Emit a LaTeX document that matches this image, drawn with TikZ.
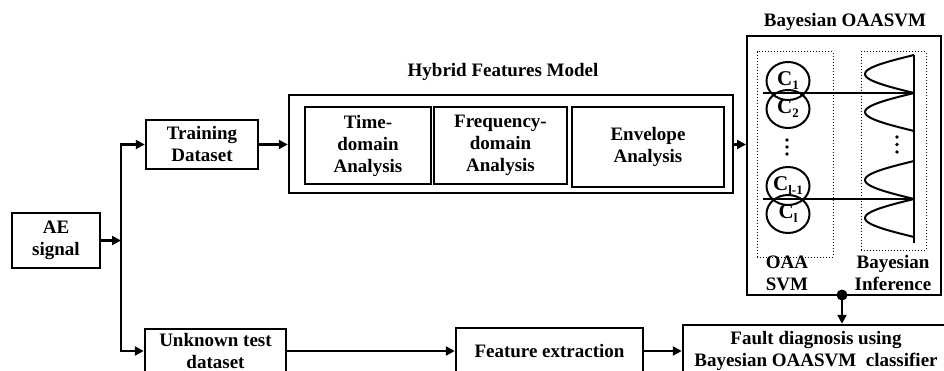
\documentclass[tikz,border=0pt]{standalone}
\usepackage{fontspec}
\setmainfont{Liberation Serif}
\usetikzlibrary{arrows.meta,shapes.geometric}
\begin{document}
\begin{tikzpicture}[x=1pt,y=-1pt,
  font=\fontsize{19}{22}\selectfont\bfseries,
  box/.style={draw, line width=2.5pt, align=center, inner sep=0pt},
  conn/.style={line width=2.4pt, -{Triangle[length=9pt,width=9pt]}},
  dotbox/.style={draw, dotted, line width=1pt, inner sep=0pt},
  cls/.style={draw, ellipse, line width=2pt, minimum width=43pt, minimum height=38pt, inner sep=0pt},
  bump/.style={line width=2pt, domain=-19:19, samples=40, variable=\t},
  thin/.style={line width=1.4pt},
  lbl/.style={align=center, inner sep=0pt}]
\useasboundingbox (0,0) rectangle (944,371);
\clip (0,0) rectangle (944,371);

% boxes
\node[box, minimum width=88pt, minimum height=55pt] (ae) at (56,240.5) {AE\\signal};
\node[box, minimum width=112pt, minimum height=49pt] (train) at (202,144.5) {Training\\Dataset};
\node[box, minimum width=444pt, minimum height=98pt] (hy) at (511,144) {};
\node[box, minimum width=126pt, minimum height=77pt] (time) at (368,145.5) {Time-\\domain\\Analysis};
\node[box, minimum width=133pt, minimum height=77pt] (freq) at (500.5,145.5) {Frequency-\\domain\\Analysis};
\node[box, minimum width=152pt, minimum height=80pt] (env) at (648,147) {Envelope\\Analysis};
\node[lbl] (hytitle) at (503,72) {Hybrid Features Model};

\node[box, line width=2pt, minimum width=194pt, minimum height=259pt] (bay) at (844,165.5) {};
\node[lbl] (baytitle) at (845,22) {Bayesian OAASVM};
\node[dotbox, minimum width=76pt, minimum height=205pt] (oaa) at (795,154.5) {};
\node[dotbox, minimum width=65pt, minimum height=198pt] (binf) at (893.5,151) {};
\node[lbl] (oaalbl) at (787,273) {OAA\\SVM};
\node[lbl] (binflbl) at (893,273) {Bayesian\\Inference};

\node[box, minimum width=141pt, minimum height=44pt] (unk) at (215.5,351) {Unknown test\\dataset};
\node[box, minimum width=187pt, minimum height=46pt] (feat) at (549.5,351) {Feature extraction};
\node[box, minimum width=266pt, minimum height=52pt] (fault) at (816,351) {Fault diagnosis using\\Bayesian OAASVM\ \ classifier};

% classes
\newcommand{\csub}[1]{{\fontsize{21}{21}\selectfont C}{\fontsize{13}{13}\selectfont\raisebox{-4pt}{#1}}}
\node[cls] (c1) at (788,81) {\csub{1}};
\node[cls] (c2) at (788,109) {\csub{2}};
\node[cls] (c3) at (788,186) {\csub{l-1}};
\node[cls] (c4) at (788,214) {\csub{l}};
\foreach \yy in {140,147,154} \fill (787,\yy) circle (1.8);
\foreach \yy in {137,144.5,152} \fill (897,\yy) circle (1.8);

% Bayesian inference curves
\coordinate (vt) at (914,55);
\coordinate (vb) at (914,243);
\draw[line width=1.8pt] (vt) -- (vb);
\foreach \yc in {74,112,180,218}
  \draw[bump] plot ({914-49*cos(\t/19*90)}, {\yc+\t});
\coordinate (h1s) at (763,93);
\coordinate (h2s) at (763,199);
\draw[thin] (h1s) -- (h1s -| vt);
\draw[thin] (h2s) -- (h2s -| vt);

% connectors
\coordinate (j) at (121,243);
\draw[conn] (ae.east) -- (ae.east -| j);
\draw[conn] (j |- unk.west) |- (train.west);
\draw[conn] (j |- train.west) |- (unk.west);
\draw[conn] (train.east) -- (train.east -| hy.west);
\draw[conn] (hy.east |- train.east) -- (train.east -| bay.west);
\draw[conn] (unk.east) -- (feat.west);
\draw[conn] (feat.east) -- (feat.east -| fault.west);
\coordinate (d) at (842,295);
\fill (d) circle (5.5);
\draw[conn] (d) -- (d |- fault.north);
\end{tikzpicture}
\end{document}
